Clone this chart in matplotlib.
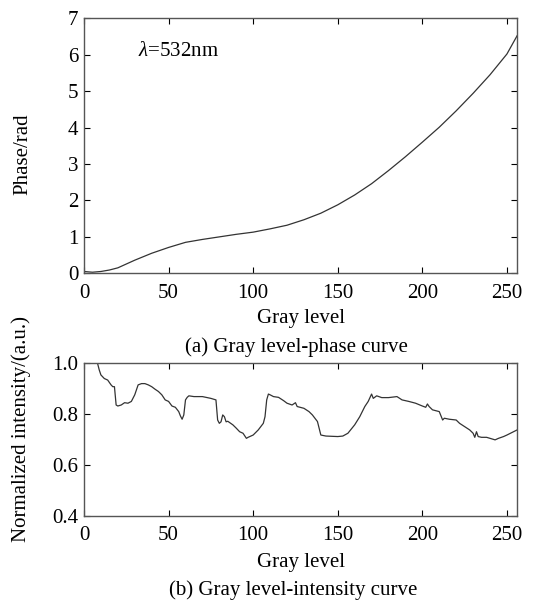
import numpy as np
import matplotlib
matplotlib.use("Agg")
import matplotlib.pyplot as plt

# (a) gray level -> phase
gray_a = [0, 5, 10, 15, 20, 30, 40, 50, 60, 70, 80, 90, 100, 110, 120, 130,
          140, 150, 160, 170, 180, 190, 200, 210, 220, 230, 240, 250, 256]
phase = [0.05, 0.03, 0.05, 0.09, 0.15, 0.36, 0.55, 0.71, 0.85, 0.93, 1.0, 1.07,
         1.13, 1.22, 1.32, 1.47, 1.65, 1.88, 2.15, 2.46, 2.82, 3.2, 3.6, 4.01,
         4.46, 4.94, 5.45, 6.02, 6.52]

# (b) gray level -> normalized intensity
gray_b = [0, 4, 8, 9, 10, 12, 14, 16, 17, 18, 19, 20, 22, 24, 26, 28, 30, 32,
          34, 36, 38, 40, 42, 44, 46, 48, 50, 52, 54, 56, 57, 58, 59, 60, 61,
          62, 65, 70, 75, 78, 79, 80, 81, 82, 83, 84, 85, 88, 90, 92, 94, 96,
          97, 100, 103, 106, 107, 108, 109, 110, 112, 115, 118, 120, 123, 125,
          126, 130, 133, 135, 138, 140, 143, 150, 153, 156, 160, 163, 166, 168,
          170, 171, 173, 176, 180, 185, 188, 192, 196, 200, 202, 203, 204, 206,
          210, 212, 213, 216, 220, 222, 225, 228, 230, 231, 232, 233, 235, 238,
          240, 243, 245, 248, 250, 253, 256]
intensity = [1.0, 1.0, 1.0, 0.974, 0.954, 0.94, 0.934, 0.915, 0.908, 0.908,
             0.836, 0.832, 0.836, 0.845, 0.843, 0.85, 0.876, 0.915, 0.92, 0.92,
             0.915, 0.908, 0.898, 0.889, 0.876, 0.856, 0.85, 0.832, 0.827, 0.81,
             0.793, 0.78, 0.797, 0.856, 0.866, 0.872, 0.869, 0.869, 0.862, 0.856,
             0.777, 0.764, 0.77, 0.797, 0.79, 0.77, 0.772, 0.758, 0.745, 0.731,
             0.725, 0.705, 0.709, 0.718, 0.738, 0.764, 0.79, 0.856, 0.879, 0.876,
             0.869, 0.866, 0.853, 0.843, 0.836, 0.845, 0.83, 0.823, 0.81, 0.797,
             0.771, 0.718, 0.714, 0.712, 0.714, 0.725, 0.758, 0.79, 0.83, 0.85,
             0.879, 0.862, 0.872, 0.865, 0.865, 0.869, 0.856, 0.85, 0.843, 0.832,
             0.827, 0.84, 0.83, 0.817, 0.81, 0.777, 0.784, 0.78, 0.777, 0.764,
             0.751, 0.738, 0.725, 0.709, 0.731, 0.712, 0.709, 0.709, 0.705, 0.699,
             0.705, 0.712, 0.718, 0.728, 0.738]

plt.rcParams["font.family"] = "Liberation Serif"
plt.rcParams["font.size"] = 15
plt.rcParams["mathtext.fontset"] = "custom"
plt.rcParams["mathtext.it"] = "Liberation Serif:italic"
plt.rcParams["mathtext.rm"] = "Liberation Serif"

fig = plt.figure(figsize=(5.36, 6.02), dpi=100)
ax1 = fig.add_axes([0.1567, 0.546, 0.808, 0.4236])
ax2 = fig.add_axes([0.1567, 0.1429, 0.808, 0.2537])

ax1.plot(gray_a, phase, color="#333333", lw=0.9)
ax1.set_xlim(0, 256)
ax1.set_ylim(0, 7)
ax1.set_xticks([0, 50, 100, 150, 200, 250])
ax1.set_yticks(range(0, 8))
ax1.set_xlabel("Gray level", va="center")
ax1.xaxis.set_label_coords(0.5, -0.176)
ax1.set_ylabel("Phase/rad", va="center")
ax1.yaxis.set_label_coords(-0.14, 0.467)
ax1.text(32, 6.1, r"$\lambda$=532nm", va="center", ha="left")

ax2.plot(gray_b, intensity, color="#333333", lw=0.9)
ax2.set_xlim(0, 256)
ax2.set_ylim(0.4, 1.0)
ax2.set_xticks([0, 50, 100, 150, 200, 250])
ax2.set_yticks([0.4, 0.6, 0.8, 1.0])
ax2.set_yticklabels(["0.4", "0.6", "0.8", "1.0"])
ax2.set_xlabel("Gray level", va="center")
ax2.xaxis.set_label_coords(0.5, -0.307)
ax2.set_ylabel("Normalized intensity/(a.u.)", va="center")
ax2.yaxis.set_label_coords(-0.145, 0.569)

for ax in (ax1, ax2):
    ax.tick_params(direction="in", top=True, right=True, length=4, width=0.8,
                   colors="black")
    ax.tick_params(axis="x", pad=7.5)
    ax.tick_params(axis="y", pad=4)
    for s in ax.spines.values():
        s.set_color("#555555")
        s.set_linewidth(1.0)

fig.text(296 / 536, 1 - 347 / 602, "(a) Gray level-phase curve", ha="center", va="center")
fig.text(293 / 536, 1 - 590 / 602, "(b) Gray level-intensity curve", ha="center", va="center")

fig.savefig("out.png", dpi=100)
